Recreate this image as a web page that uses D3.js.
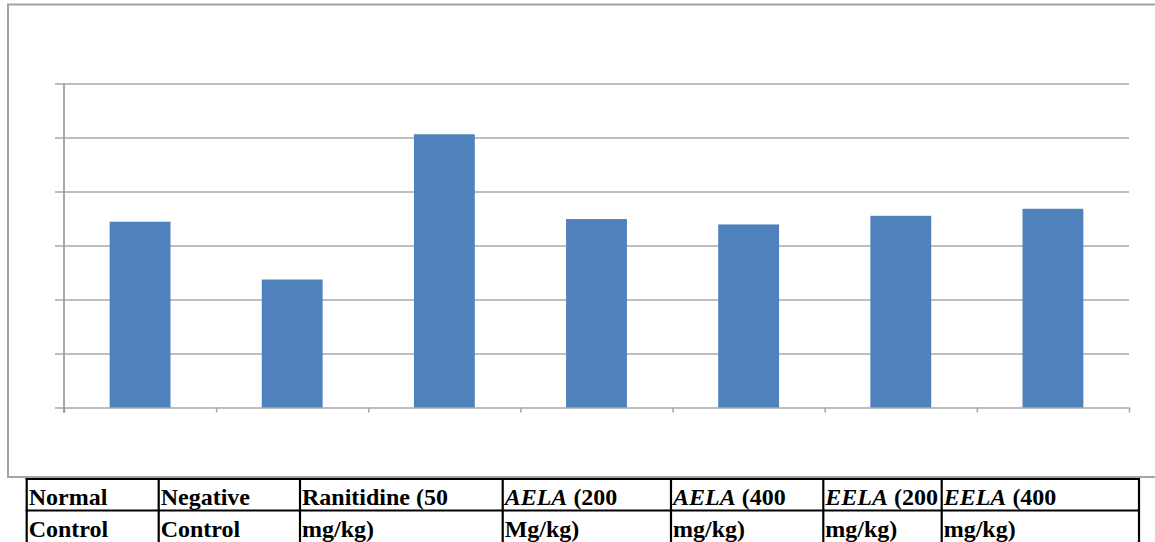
<!DOCTYPE html>
<html>
<head>
<meta charset="utf-8">
<script src="https://cdn.jsdelivr.net/npm/d3@7"></script>
<style>
  body { margin: 0; background: #fff; }
  svg { display: block; }
</style>
</head>
<body>
<svg id="drawing_region"></svg>
<script>
// data (grid units, 6 gridline steps)
const categories = ["Normal Control", "Negative Control", "Ranitidine (50 mg/kg)",
                    "AELA (200 Mg/kg)", "AELA (400 mg/kg)", "EELA (200 mg/kg)", "EELA (400 mg/kg)"];
const values = [3.44, 2.37, 5.06, 3.49, 3.39, 3.55, 3.68];
const yTicks = [0, 1, 2, 3, 4, 5, 6];
const labelLine1 = ["Normal", "Negative", "Ranitidine (50", "AELA (200", "AELA (400", "EELA (200", "EELA (400"];
const labelLine2 = ["Control", "Control", "mg/kg)", "Mg/kg)", "mg/kg)", "mg/kg)", "mg/kg)"];

const config = {
    width: 1155,
    height: 542,
    plot: { left: 64, right: 1129, top: 83.5, bottom: 407.5 },
    colEdges: [26.7, 158.7, 300, 502.7, 671, 823.3, 941.7, 1139],
    rowEdges: [479, 510.5, 544],
};

const svg = d3.select('#drawing_region')
    .attr('width', config.width)
    .attr('height', config.height);

// outer chart frame (right side runs off the picture)
svg.append('rect')
    .attr('x', 8).attr('y', 4.5)
    .attr('width', 1152).attr('height', 472.5)
    .attr('fill', 'none')
    .attr('stroke', '#a3a3a3')
    .attr('stroke-width', 2);

const p = config.plot;

const xscale = d3.scaleBand()
    .domain(categories)
    .range([p.left, p.right])
    .paddingInner(0.6)
    .paddingOuter(0.3);

const yscale = d3.scaleLinear()
    .domain([0, 6])
    .range([p.bottom, p.top]);

// gridlines (start a little left of the axis like excel's tick marks)
const grid = svg.append('g')
    .attr('transform', `translate(${p.left - 9}, 0)`)
    .call(d3.axisLeft(yscale)
        .tickValues(yTicks)
        .tickSize(-(p.right - p.left + 9))
        .tickFormat(''));
grid.select('.domain').remove();
grid.selectAll('.tick line')
    .attr('stroke', '#a9a9a9')
    .attr('stroke-width', 1.6);

// category boundary ticks on the x axis
const xedge = d3.scaleLinear()
    .domain([0, categories.length])
    .range([p.left, p.right]);
const xaxis = svg.append('g')
    .attr('transform', `translate(0, ${p.bottom})`)
    .call(d3.axisBottom(xedge)
        .ticks(categories.length)
        .tickSize(5)
        .tickFormat(''));
xaxis.select('.domain').remove();
xaxis.selectAll('.tick line')
    .attr('stroke', '#a9a9a9')
    .attr('stroke-width', 1.6);

// y axis line
svg.append('line')
    .attr('x1', p.left).attr('x2', p.left)
    .attr('y1', p.top).attr('y2', p.bottom + 5.5)
    .attr('stroke', '#9f9f9f')
    .attr('stroke-width', 1.8);

// bars
svg.selectAll('rect.bar')
    .data(values)
    .enter()
    .append('rect')
    .attr('class', 'bar')
    .attr('x', (d, i) => xscale(categories[i]))
    .attr('y', d => yscale(d))
    .attr('width', xscale.bandwidth())
    .attr('height', d => yscale(0) - yscale(d))
    .attr('fill', '#4f81bd');

// label table under the chart
const table = svg.append('g');
const c = config.colEdges, r = config.rowEdges;

c.forEach(x => {
    table.append('line')
        .attr('x1', x).attr('x2', x)
        .attr('y1', r[0] - 1).attr('y2', r[2])
        .attr('stroke', '#000').attr('stroke-width', 2.2);
});
r.forEach(y => {
    table.append('line')
        .attr('x1', c[0] - 1).attr('x2', c[c.length - 1] + 1)
        .attr('y1', y).attr('y2', y)
        .attr('stroke', '#000').attr('stroke-width', 2.2);
});

function writeCell(text, i, baseline) {
    const t = table.append('text')
        .attr('x', c[i] + 2)
        .attr('y', baseline)
        .attr('font-family', '"Liberation Serif", "Times New Roman", serif')
        .attr('font-size', 24)
        .attr('font-weight', 'bold')
        .attr('fill', '#000');
    const m = text.match(/^(AELA|EELA)(.*)$/);
    if (m) {
        t.append('tspan').attr('font-style', 'italic').text(m[1]);
        t.append('tspan').text(m[2]);
    } else {
        t.text(text);
    }
}

labelLine1.forEach((s, i) => writeCell(s, i, 505));
labelLine2.forEach((s, i) => writeCell(s, i, 537));
</script>
</body>
</html>
